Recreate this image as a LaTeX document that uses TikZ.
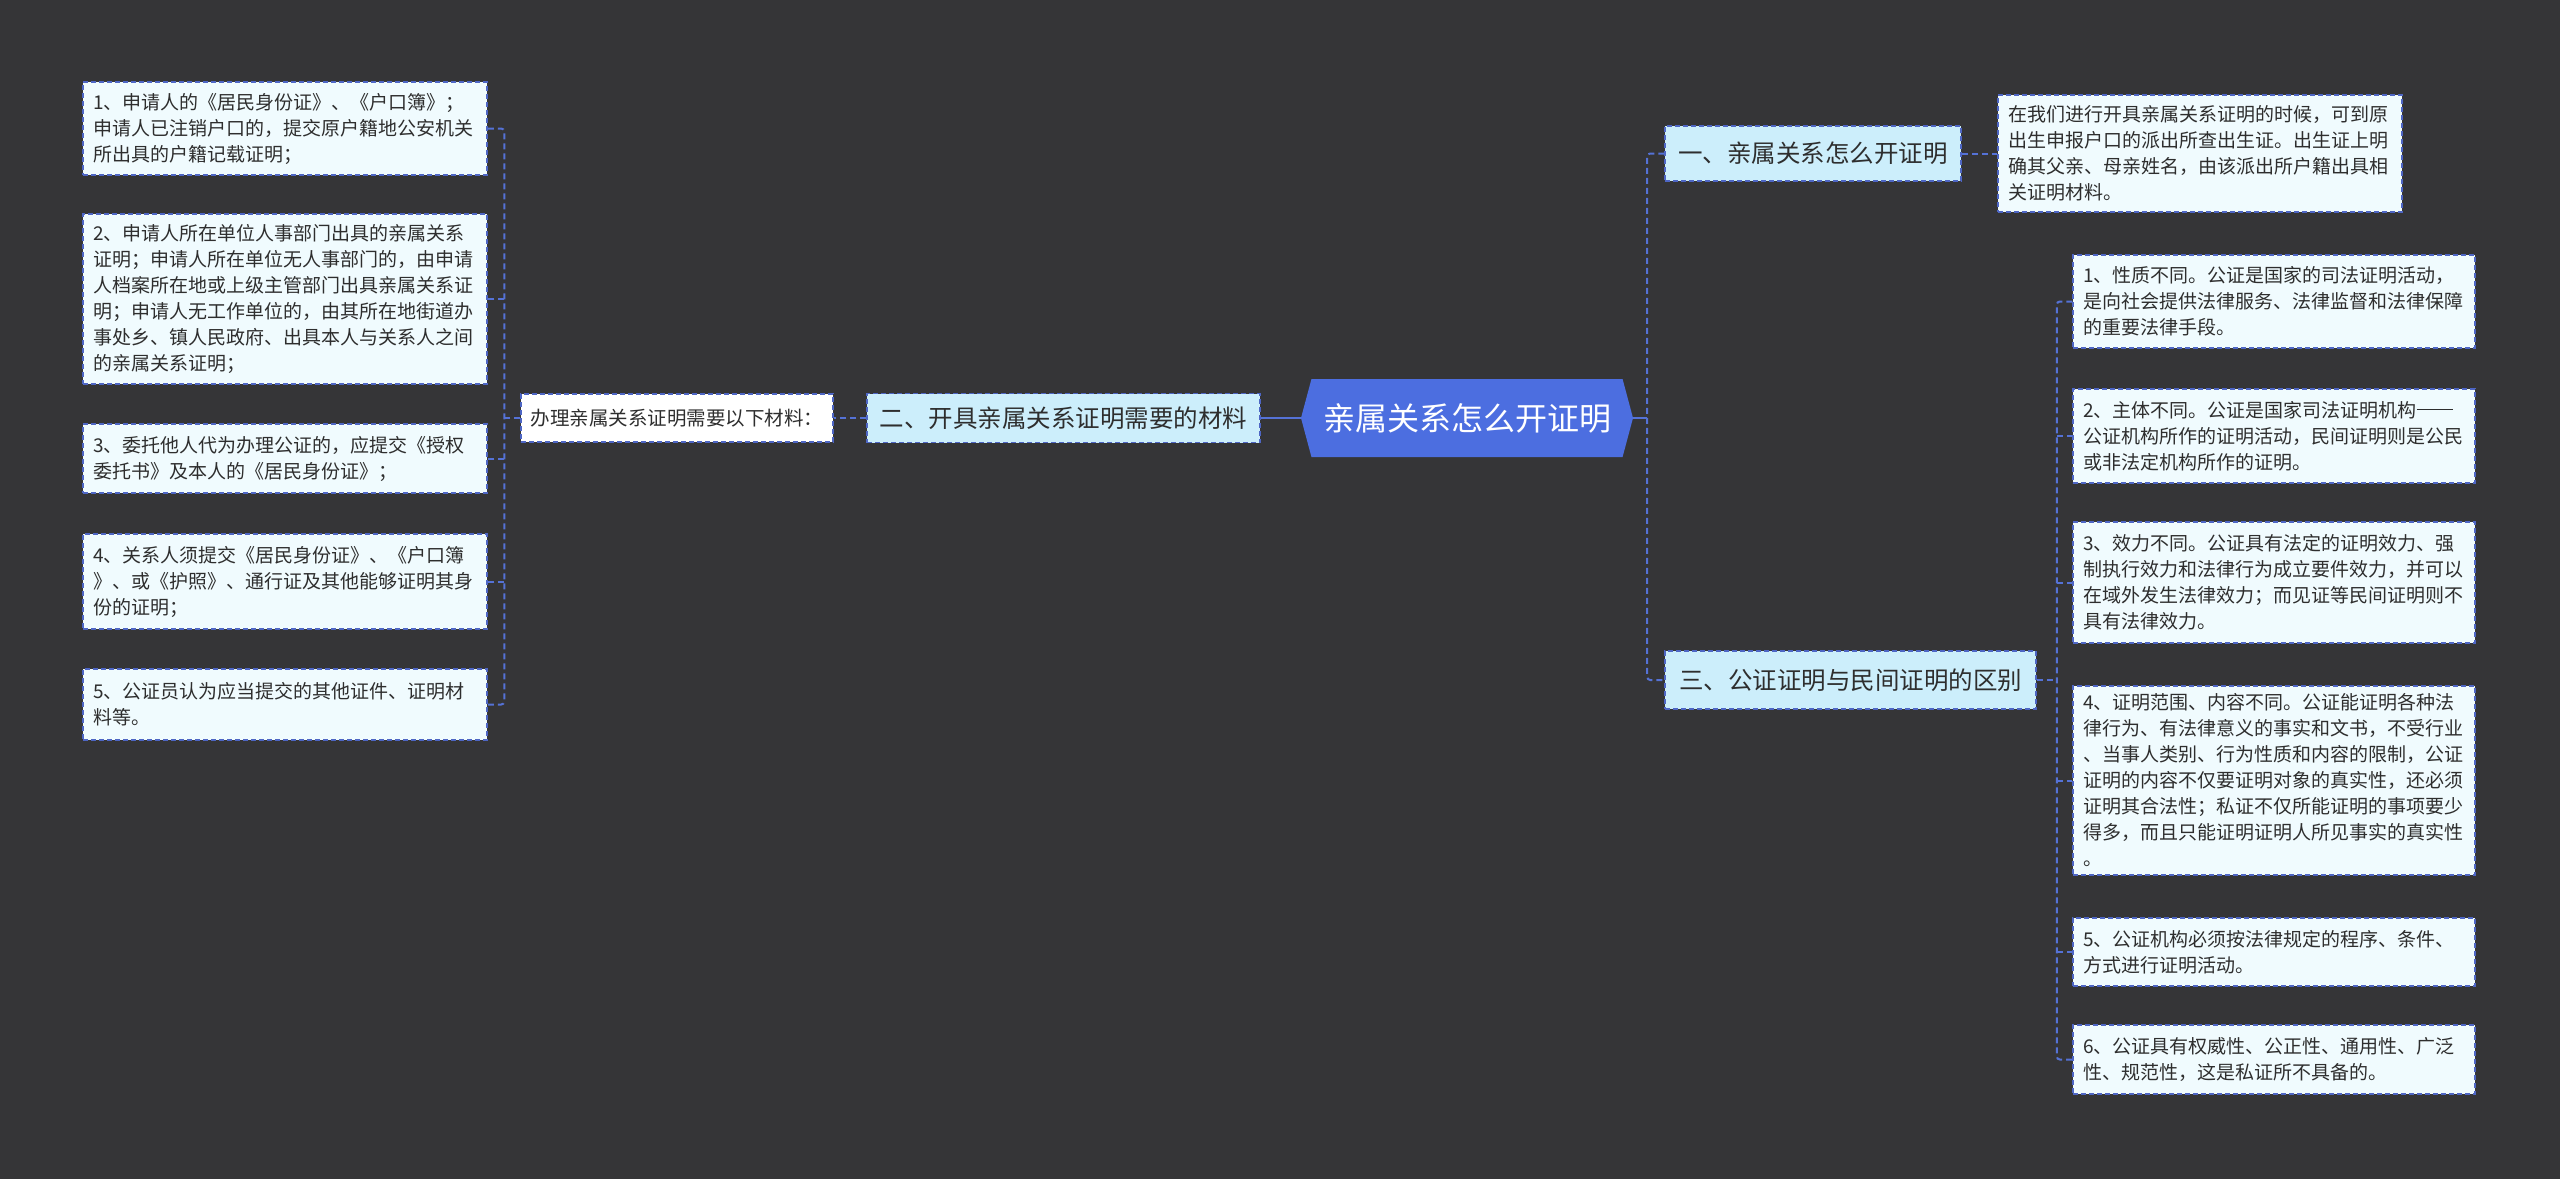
\documentclass[tikz,border=0pt]{standalone}
\usepackage{fontspec}
\setmainfont{Noto Sans CJK SC}
\usetikzlibrary{shapes.symbols,calc}
\definecolor{bgc}{HTML}{353537}
\definecolor{leaffill}{HTML}{F0FBFE}
\definecolor{branchfill}{HTML}{CCEEFB}
\definecolor{bordc}{HTML}{4E66C4}
\definecolor{linec}{HTML}{5572D6}
\definecolor{centerc}{HTML}{4C6EE0}
\definecolor{txtc}{HTML}{2E2E2E}
\newcommand\mydashes{\rule[0.36em]{1.9em}{0.06em}\hspace{0.1em}}
\begin{document}
\begin{tikzpicture}[x=1pt,y=-1pt,
  boxbase/.style={draw=bordc, line width=1.5pt, dash pattern=on 5pt off 3pt, text=txtc, anchor=center},
  leaf/.style={boxbase, fill=leaffill, align=left, inner xsep=10pt, inner ysep=0pt,
     font=\fontsize{19pt}{26pt}\selectfont},
  branch/.style={boxbase, fill=branchfill, inner sep=0pt, align=center,
     font=\fontsize{24.5pt}{30pt}\selectfont},
  conn/.style={draw=linec, line width=2pt, dash pattern=on 6pt off 4pt, rounded corners=3pt},
  mainconn/.style={draw=linec, line width=2.5pt}
]
\fill[bgc] (0,0) rectangle (2560,1179);
\useasboundingbox (0,0) rectangle (2560,1179);

% center
\node[signal, signal to=west and east, signal pointer angle=150,
  minimum width=332pt, minimum height=78pt, inner sep=0pt, fill=centerc, text=white,
  font=\fontsize{32pt}{36pt}\selectfont] (c) at (1467,418) {亲属关系怎么开证明};

% branches
\node[branch, minimum width=296pt, minimum height=55pt] (b1) at (1813,153.5) {一、亲属关系怎么开证明};
\node[branch, minimum width=393pt, minimum height=49pt] (b2) at (1063.5,418) {二、开具亲属关系证明需要的材料};
\node[branch, minimum width=371pt, minimum height=58pt] (b3) at (1850.5,680) {三、公证证明与民间证明的区别};

% middle-left
\node[boxbase, fill=white, inner sep=0pt, minimum width=312pt, minimum height=48pt,
  font=\fontsize{19.5pt}{24pt}\selectfont] (m) at (677,418) {办理亲属关系证明需要以下材料：};

% top text
\node[leaf, text width=384pt, minimum height=117pt] (t) at (2200,153.5)
 {在我们进行开具亲属关系证明的时候，可到原\\出生申报户口的派出所查出生证。出生证上明\\确其父亲、母亲姓名，由该派出所户籍出具相\\关证明材料。};

% left leaves
\node[leaf, text width=384pt, minimum height=93pt] (l1) at (285,128.5)
 {1、申请人的《居民身份证》、《户口簿》；\\申请人已注销户口的，提交原户籍地公安机关\\所出具的户籍记载证明；};
\node[leaf, text width=384pt, minimum height=170pt] (l2) at (285,299)
 {2、申请人所在单位人事部门出具的亲属关系\\证明；申请人所在单位无人事部门的，由申请\\人档案所在地或上级主管部门出具亲属关系证\\明；申请人无工作单位的，由其所在地街道办\\事处乡、镇人民政府、出具本人与关系人之间\\的亲属关系证明；};
\node[leaf, text width=384pt, minimum height=69pt] (l3) at (285,458.5)
 {3、委托他人代为办理公证的，应提交《授权\\委托书》及本人的《居民身份证》；};
\node[leaf, text width=384pt, minimum height=95pt] (l4) at (285,581.5)
 {4、关系人须提交《居民身份证》、《户口簿\\》、或《护照》、通行证及其他能够证明其身\\份的证明；};
\node[leaf, text width=384pt, minimum height=71pt] (l5) at (285,704.5)
 {5、公证员认为应当提交的其他证件、证明材\\料等。};

% right leaves
\node[leaf, text width=382pt, minimum height=93pt] (r1) at (2274,301.5)
 {1、性质不同。公证是国家的司法证明活动，\\是向社会提供法律服务、法律监督和法律保障\\的重要法律手段。};
\node[leaf, text width=382pt, minimum height=94pt] (r2) at (2274,436)
 {2、主体不同。公证是国家司法证明机构\mydashes\\公证机构所作的证明活动，民间证明则是公民\\或非法定机构所作的证明。};
\node[leaf, text width=382pt, minimum height=121pt] (r3) at (2274,582.5)
 {3、效力不同。公证具有法定的证明效力、强\\制执行效力和法律行为成立要件效力，并可以\\在域外发生法律效力；而见证等民间证明则不\\具有法律效力。};
\node[leaf, text width=382pt, minimum height=189pt] (r4) at (2274,780.5)
 {4、证明范围、内容不同。公证能证明各种法\\律行为、有法律意义的事实和文书，不受行业\\、当事人类别、行为性质和内容的限制，公证\\证明的内容不仅要证明对象的真实性，还必须\\证明其合法性；私证不仅所能证明的事项要少\\得多，而且只能证明证明人所见事实的真实性\\。};
\node[leaf, text width=382pt, minimum height=68pt] (r5) at (2274,952)
 {5、公证机构必须按法律规定的程序、条件、\\方式进行证明活动。};
\node[leaf, text width=382pt, minimum height=69pt] (r6) at (2274,1059.5)
 {6、公证具有权威性、公正性、通用性、广泛\\性、规范性，这是私证所不具备的。};

% connectors: center
\draw[mainconn] (c.west) -- (b2.east);
\draw[mainconn] (c.east) -- ++(14,0) coordinate (sR);
\draw[conn] (b1.west) -| (sR) |- (b3.west);

% branch 1 -> text
\draw[conn] (b1.east) -- (t.west);

% branch 2 -> middle -> leaves
\draw[conn] (b2.west) -- (m.east);
\draw[conn] (m.west) -- ++(-16,0) coordinate (sL);
\draw[conn] (l1.east) -| (sL) |- (l5.east);
\draw[conn] (sL |- l2.east) -- (l2.east);
\draw[conn] (sL |- l3.east) -- (l3.east);
\draw[conn] (sL |- l4.east) -- (l4.east);

% branch 3 -> leaves
\draw[conn] (b3.east) -- ++(20,0) coordinate (s3);
\draw[conn] (r1.west) -| (s3) |- (r6.west);
\draw[conn] (s3 |- r2.west) -- (r2.west);
\draw[conn] (s3 |- r3.west) -- (r3.west);
\draw[conn] (s3 |- r4.west) -- (r4.west);
\draw[conn] (s3 |- r5.west) -- (r5.west);
\end{tikzpicture}
\end{document}
